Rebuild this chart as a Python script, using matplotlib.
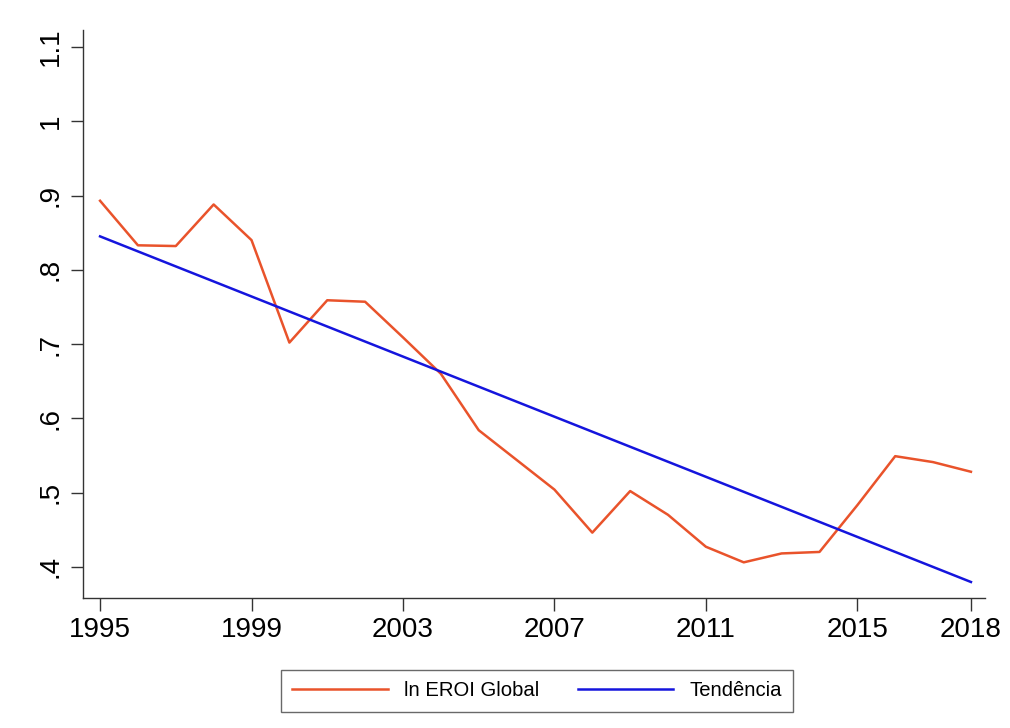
import numpy as np
import matplotlib
matplotlib.use("Agg")
import matplotlib.pyplot as plt

plt.rcParams['font.family'] = ['Liberation Sans', 'DejaVu Sans']

years = list(range(1995, 2019))
eroi = [0.893, 0.833, 0.832, 0.888, 0.840, 0.702, 0.759, 0.757, 0.709, 0.660,
        0.584, 0.544, 0.504, 0.446, 0.502, 0.470, 0.427, 0.406, 0.418, 0.420,
        0.483, 0.549, 0.541, 0.528]
xticks = [1995, 1999, 2003, 2007, 2011, 2015, 2018]
yticks = [0.4, 0.5, 0.6, 0.7, 0.8, 0.9, 1.0, 1.1]
ytick_labels = ['.4', '.5', '.6', '.7', '.8', '.9', '1', '1.1']

# linear trend (tendência)
coef = np.polyfit(years, eroi, 1)
trend = np.polyval(coef, years)

fig = plt.figure(figsize=(10.1, 7.28), dpi=100)
ax = fig.add_axes([0.0822, 0.1786, 0.893, 0.7802])

ax.plot(years, eroi, color='#e9532b', lw=1.8, label='ln EROI Global')
ax.plot(years, trend, color='#1515dd', lw=1.8, label='Tendência')

ax.set_xlim(1994.55, 2018.37)
ax.set_ylim(0.358, 1.123)
ax.set_xticks(xticks)
ax.set_xticklabels([str(t) for t in xticks], fontsize=20)
ax.set_yticks(yticks)
ax.set_yticklabels(ytick_labels, fontsize=20, rotation=90, va='center')

for s in ['top', 'right']:
    ax.spines[s].set_visible(False)
for s in ['left', 'bottom']:
    ax.spines[s].set_color('#333333')
    ax.spines[s].set_linewidth(1.0)
ax.tick_params(length=9, width=1.0, color='#333333', pad=5)

leg = fig.legend(loc='center', bbox_to_anchor=(537 / 1010, 1 - 691 / 728), ncol=2,
                 fontsize=14.6, frameon=True, fancybox=False, handlelength=4.7,
                 columnspacing=1.9, handletextpad=0.8, borderpad=0.55,
                 borderaxespad=0)
leg.get_frame().set_edgecolor('#444444')
leg.get_frame().set_linewidth(1.0)

fig.savefig('out.png', dpi=100, facecolor='white')
